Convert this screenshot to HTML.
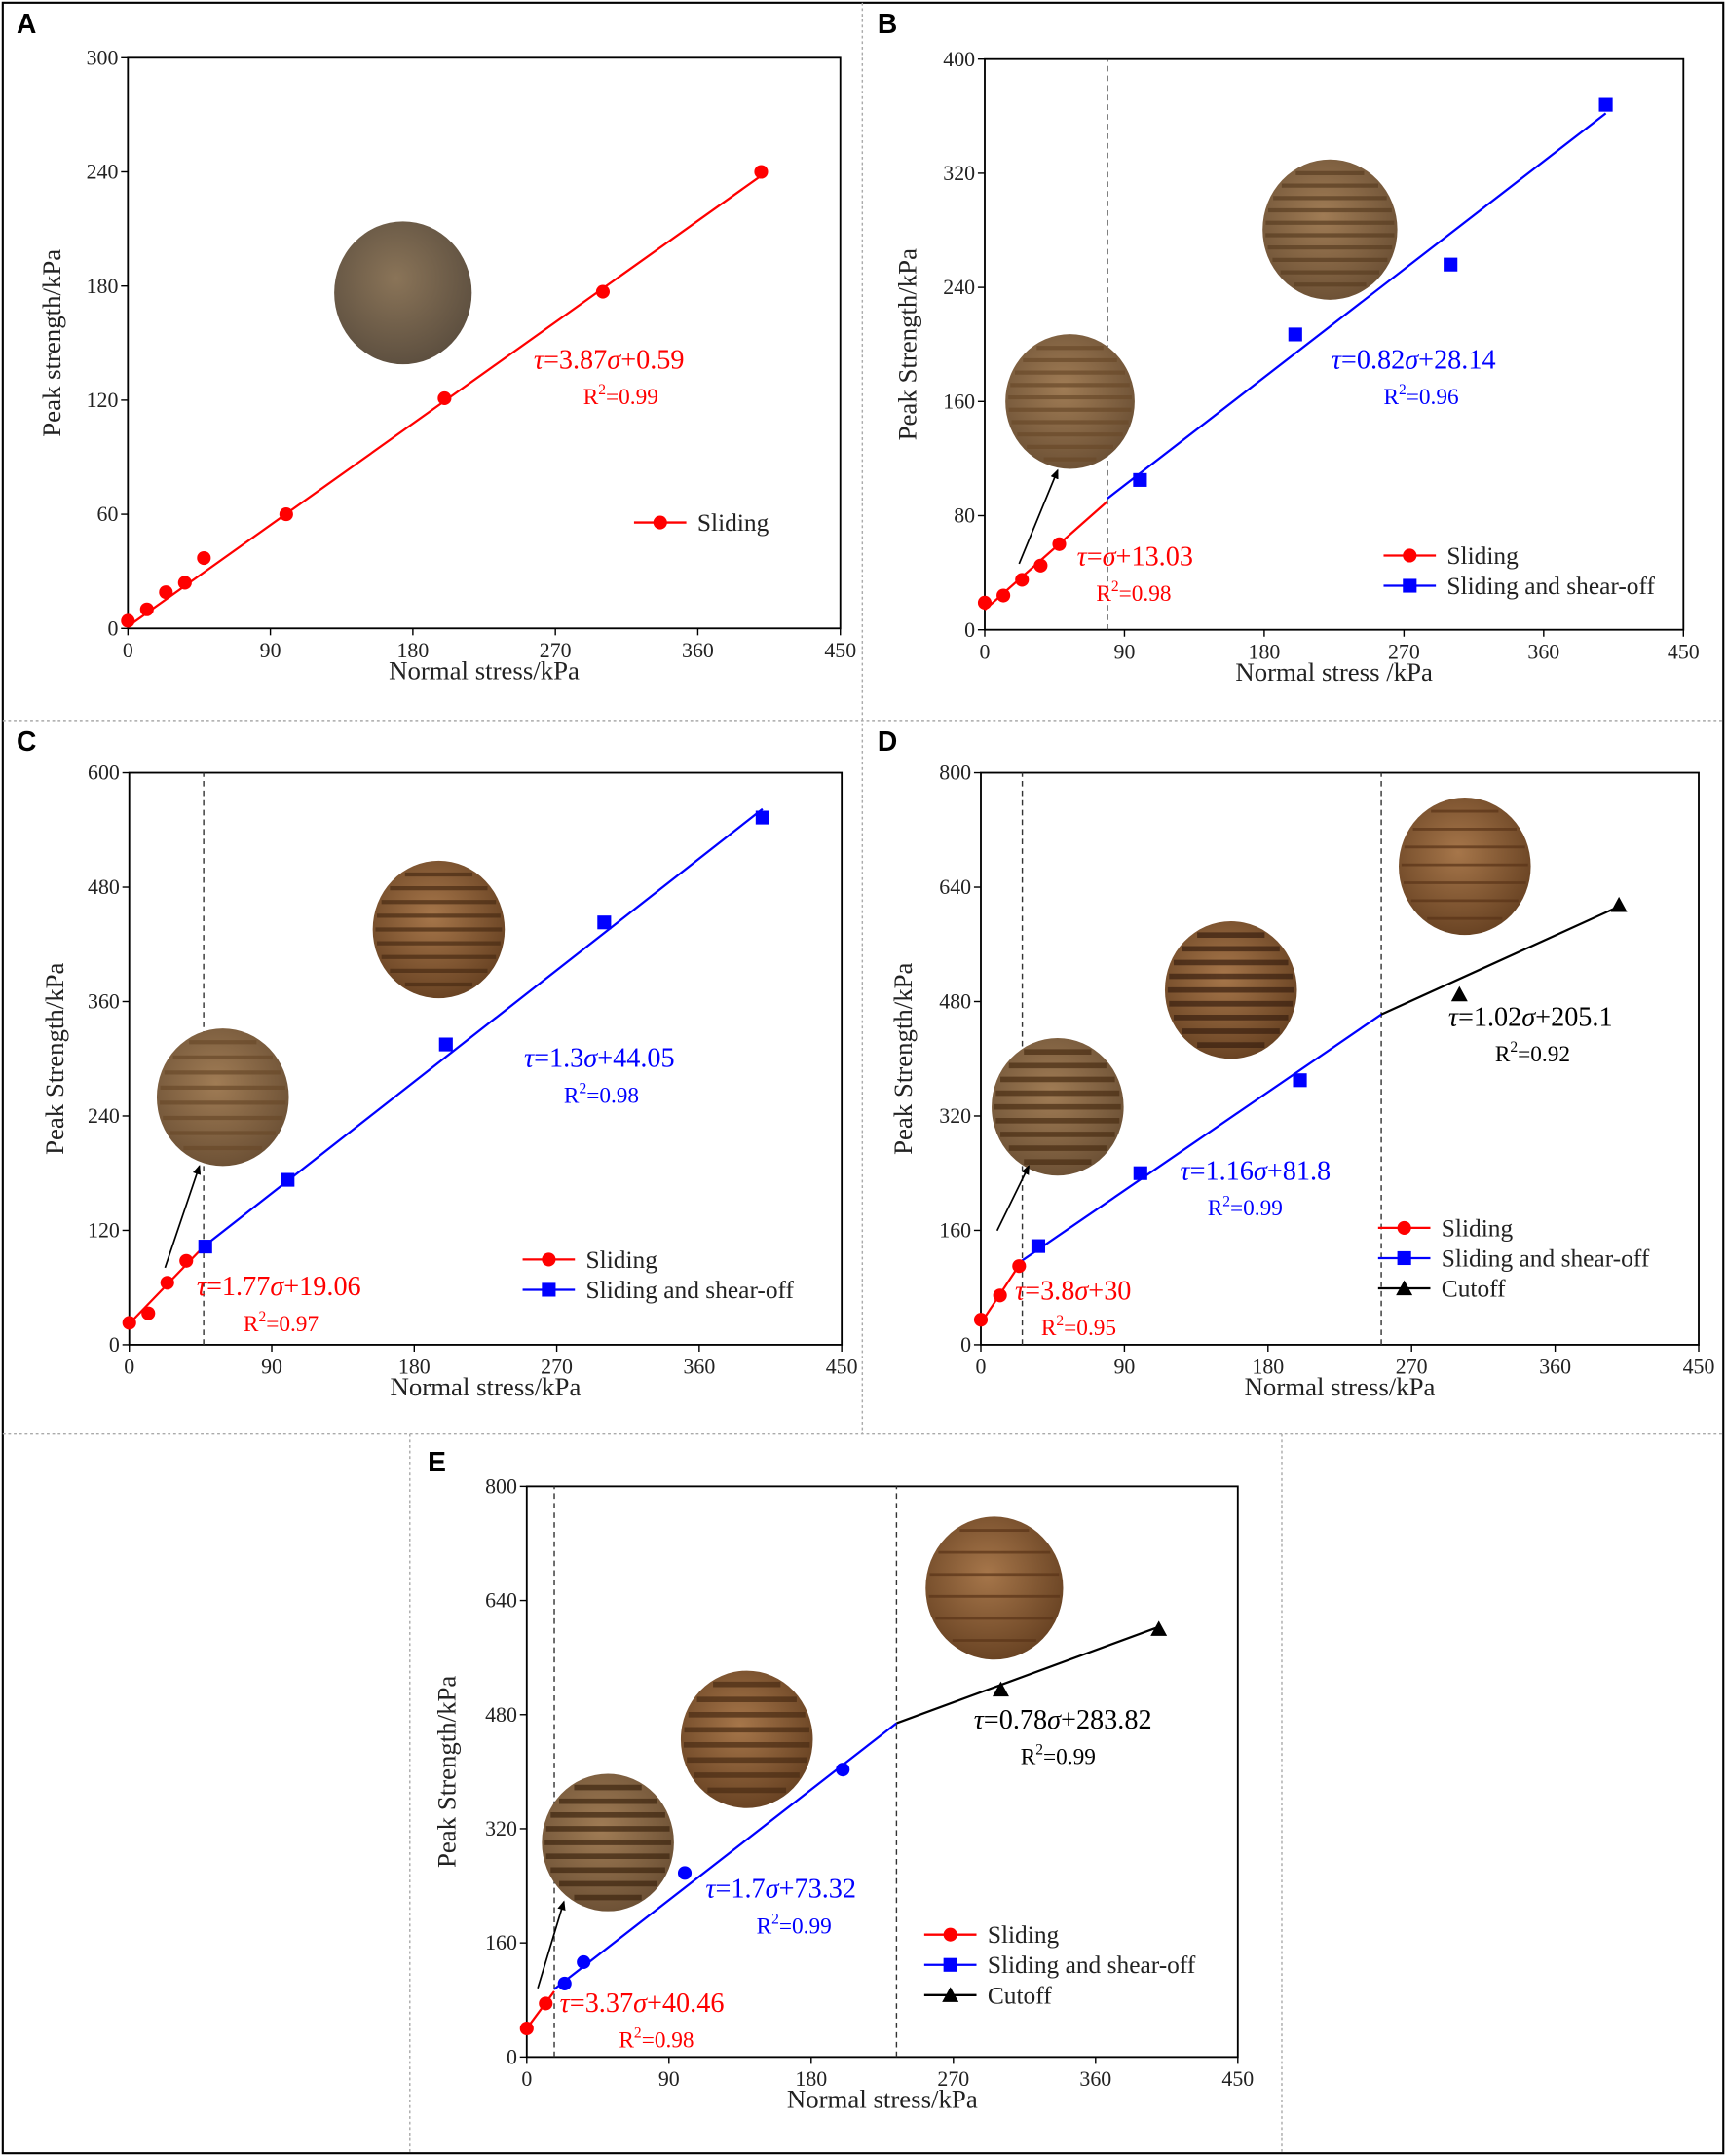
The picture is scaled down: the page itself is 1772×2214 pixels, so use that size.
<!DOCTYPE html>
<html><head><meta charset="utf-8"><style>
html,body{margin:0;padding:0;background:#fff}
svg{display:block}
text{font-family:"Liberation Serif",serif}
</style></head><body>
<svg id="s" xmlns="http://www.w3.org/2000/svg" width="1772" height="2214" viewBox="0 0 1772 2214">
<defs>
<radialGradient id="gA" cx="45%" cy="40%" r="60%"><stop offset="0" stop-color="#8a7458"/><stop offset="1" stop-color="#5e5040"/></radialGradient>
<radialGradient id="gB" cx="45%" cy="40%" r="60%"><stop offset="0" stop-color="#a07c55"/><stop offset="1" stop-color="#6e5236"/></radialGradient>
<radialGradient id="gC" cx="45%" cy="40%" r="60%"><stop offset="0" stop-color="#a6764a"/><stop offset="1" stop-color="#6a4424"/></radialGradient>
<marker id="ar" markerWidth="8" markerHeight="8" refX="6" refY="3" orient="auto" markerUnits="userSpaceOnUse"><path d="M0,0 L7,3 L0,6 Z" fill="#000"/></marker>
</defs>
<g id="g" transform="scale(1.412)"></g>
</svg>
<script>
var out=[];
function add(s){out.push(s);}
add('<rect x="2" y="2" width="1251" height="1564" fill="none" stroke="#000" stroke-width="1.5"/>');
var dv='stroke="#aaa" stroke-width="1" stroke-dasharray="2,2"';
add('<line x1="627" y1="2" x2="627" y2="1043" '+dv+'/>');
add('<line x1="2" y1="524" x2="1253" y2="524" '+dv+'/>');
add('<line x1="2" y1="1043" x2="1253" y2="1043" '+dv+'/>');
add('<line x1="298" y1="1043" x2="298" y2="1566" '+dv+'/>');
add('<line x1="932" y1="1043" x2="932" y2="1566" '+dv+'/>');
var COL={r:'#ff0000',b:'#0000ff',k:'#000'};
function panel(p){
 var X=function(v){return p.x0+(p.x1-p.x0)*v/450;};
 var Y=function(v){return p.y0-(p.y0-p.y1)*v/p.ym;};
 add('<rect x="'+p.x0+'" y="'+p.y1+'" width="'+(p.x1-p.x0)+'" height="'+(p.y0-p.y1)+'" fill="none" stroke="#000" stroke-width="1.3"/>');
 for(var i=0;i<=5;i++){var v=i*90,x=X(v);add('<line x1="'+x+'" y1="'+p.y0+'" x2="'+x+'" y2="'+(p.y0+5)+'" stroke="#000"/>');
  add('<text x="'+x+'" y="'+(p.y0+21)+'" font-size="15.5" text-anchor="middle" fill="#222">'+v+'</text>');}
 for(var i=0;i<=5;i++){var v=i*p.ym/5,y=Y(v);add('<line x1="'+(p.x0-5)+'" y1="'+y+'" x2="'+p.x0+'" y2="'+y+'" stroke="#000"/>');
  add('<text x="'+(p.x0-7)+'" y="'+(y+5)+'" font-size="15.5" text-anchor="end" fill="#222">'+v+'</text>');}
 add('<text x="'+(p.x0+p.x1)/2+'" y="'+(p.y0+37)+'" font-size="19" text-anchor="middle" fill="#222">'+p.xt+'</text>');
 var cy=(p.y0+p.y1)/2;
 add('<text transform="translate('+p.ytx+','+cy+') rotate(-90)" font-size="19" text-anchor="middle" fill="#222">'+p.yt+'</text>');
 add('<text x="'+p.lx+'" y="'+p.ly+'" font-size="20" font-weight="bold" style="font-family:\'Liberation Sans\',sans-serif">'+p.L+'</text>');
 (p.dash||[]).forEach(function(v){add('<line x1="'+X(v)+'" y1="'+p.y0+'" x2="'+X(v)+'" y2="'+p.y1+'" stroke="#333" stroke-dasharray="4,3"/>');});
 (p.imgs||[]).forEach(function(c){
  add('<ellipse cx="'+c[0]+'" cy="'+c[1]+'" rx="'+c[2]+'" ry="'+(c[2]+2)+'" fill="url(#'+c[3]+')"/>');
  if(c[4]){for(var k=-c[2]+8;k<c[2]-4;k+=c[4]){var hw=Math.sqrt(c[2]*c[2]-k*k)-2;
   add('<line x1="'+(c[0]-hw)+'" y1="'+(c[1]+k)+'" x2="'+(c[0]+hw)+'" y2="'+(c[1]+k)+'" stroke="'+(c[5]||'#5a3a1c')+'" stroke-width="'+(c[6]||3)+'" opacity="0.7"/>');}}
 });
 (p.arrows||[]).forEach(function(a){add('<line x1="'+a[0]+'" y1="'+a[1]+'" x2="'+a[2]+'" y2="'+a[3]+'" stroke="#000" stroke-width="1.2" marker-end="url(#ar)"/>');});
 p.lines.forEach(function(l){add('<line x1="'+X(l[1])+'" y1="'+Y(l[2])+'" x2="'+X(l[3])+'" y2="'+Y(l[4])+'" stroke="'+COL[l[0]]+'" stroke-width="1.6"/>');});
 function mk(t,c,x,y,s){s=s||5;
  if(t=='o')return '<circle cx="'+x+'" cy="'+y+'" r="'+s+'" fill="'+c+'"/>';
  if(t=='s')return '<rect x="'+(x-s)+'" y="'+(y-s)+'" width="'+2*s+'" height="'+2*s+'" fill="'+c+'"/>';
  return '<path d="M'+x+','+(y-s-1)+' L'+(x+s+1)+','+(y+s)+' L'+(x-s-1)+','+(y+s)+' Z" fill="'+c+'"/>';}
 p.pts.forEach(function(q){add(mk(q[1],COL[q[0]],X(q[2]),Y(q[3])));});
 p.eq.forEach(function(e){
  add('<text x="'+e[1]+'" y="'+e[2]+'" font-size="20" fill="'+COL[e[0]]+'"><tspan font-style="italic">τ</tspan>='+e[3]+'<tspan font-style="italic">σ</tspan>+'+e[4]+'</text>');
  add('<text x="'+e[5]+'" y="'+(e[2]+26)+'" font-size="16.5" fill="'+COL[e[0]]+'">R<tspan font-size="11" dy="-7">2</tspan><tspan dy="7">='+e[6]+'</tspan></text>');});
 p.leg.forEach(function(g,i){var y=p.legy+i*22;
  add('<line x1="'+p.legx+'" y1="'+y+'" x2="'+(p.legx+38)+'" y2="'+y+'" stroke="'+COL[g[0]]+'" stroke-width="1.6"/>');
  add(mk(g[1],COL[g[0]],p.legx+19,y,5));
  add('<text x="'+(p.legx+46)+'" y="'+(y+6)+'" font-size="18" fill="#222">'+g[2]+'</text>');});
}
panel({L:'A',lx:12,ly:24,x0:93,x1:611,y0:457,y1:42,ym:300,xt:'Normal stress/kPa',yt:'Peak strength/kPa',ytx:44,
 imgs:[[293,213,50,'gA']],lines:[['r',0,1,400,238]],
 pts:[['r','o',0,4],['r','o',12,10],['r','o',24,19],['r','o',36,24],['r','o',48,37],['r','o',100,60],['r','o',200,121],['r','o',300,177],['r','o',400,240]],
 eq:[['r',388,268,'3.87','0.59',424,'0.99']],legx:461,legy:380,leg:[['r','o','Sliding']]});
panel({L:'B',lx:638,ly:24,x0:716,x1:1224,y0:458,y1:43,ym:400,xt:'Normal stress /kPa',yt:'Peak Strength/kPa',ytx:666,dash:[79],
 imgs:[[778,292,47,'gB',9,'#6a4a2a',3],[967,167,49,'gB',9,'#5a3e22',3]],arrows:[[741,410,769,342]],
 lines:[['r',0,14,79,90],['b',79,92,400,362]],
 pts:[['r','o',0,19],['r','o',12,24],['r','o',24,35],['r','o',36,45],['r','o',48,60],['b','s',100,105],['b','s',200,207],['b','s',300,256],['b','s',400,368]],
 eq:[['r',783,411,'','13.03',797,'0.98'],['b',968,268,'0.82','28.14',1006,'0.96']],legx:1006,legy:404,leg:[['r','o','Sliding'],['b','s','Sliding and shear-off']]});
panel({L:'C',lx:12,ly:546,x0:94,x1:612,y0:978,y1:562,ym:600,xt:'Normal stress/kPa',yt:'Peak Strength/kPa',ytx:46,dash:[47],
 imgs:[[162,798,48,'gB',11,'#6a4a2a',3],[319,676,48,'gC',10,'#4a2c14',3]],arrows:[[120,922,145,848]],
 lines:[['r',0,22,47,103],['b',47,103,400,562]],
 pts:[['r','o',0,23],['r','o',12,33],['r','o',24,65],['r','o',36,88],['b','s',48,103],['b','s',100,173],['b','s',200,315],['b','s',300,443],['b','s',400,553]],
 eq:[['r',143,942,'1.77','19.06',177,'0.97'],['b',381,776,'1.3','44.05',410,'0.98']],legx:380,legy:916,leg:[['r','o','Sliding'],['b','s','Sliding and shear-off']]});
panel({L:'D',lx:638,ly:546,x0:1007/1.412,x1:1744/1.412,y0:978,y1:562,ym:800,xt:'Normal stress/kPa',yt:'Peak Strength/kPa',ytx:663,dash:[26,251],
 imgs:[[769,805,48,'gB',10,'#4a2e14',4],[895,720,48,'gC',10,'#3a2010',4],[1065,630,48,'gC',13,'#5a3418',2]],arrows:[[725,895,748,848]],
 lines:[['r',0,30,26,118],['b',26,118,251,462],['k',251,462,400,613]],
 pts:[['r','o',0,35],['r','o',12,69],['r','o',24,110],['b','s',36,138],['b','s',100,240],['b','s',200,370],['k','t',300,490],['k','t',400,615]],
 eq:[['r',738,945,'3.8','30',757,'0.95'],['b',858,858,'1.16','81.8',878,'0.99'],['k',1053,746,'1.02','205.1',1087,'0.92']],legx:1002,legy:893,leg:[['r','o','Sliding'],['b','s','Sliding and shear-off'],['k','t','Cutoff']]});
panel({L:'E',lx:311,ly:1070,x0:383,x1:900,y0:1496,y1:1081,ym:800,xt:'Normal stress/kPa',yt:'Peak Strength/kPa',ytx:331,dash:[17.4,234],
 imgs:[[442,1340,48,'gB',10,'#3e2610',4],[543,1265,48,'gC',11,'#4a2c14',4],[723,1155,50,'gC',16,'#5a3418',2]],arrows:[[391,1446,410,1383]],
 lines:[['r',0,40,17.4,92],['b',17.4,95,234,468],['k',234,468,400,603]],
 pts:[['r','o',0,40],['r','o',12,75],['b','o',24,103],['b','o',36,133],['b','o',100,258],['b','o',200,403],['k','t',300,515],['k','t',400,600]],
 eq:[['r',407,1463,'3.37','40.46',450,'0.98'],['b',513,1380,'1.7','73.32',550,'0.99'],['k',708,1257,'0.78','283.82',742,'0.99']],legx:672,legy:1407,leg:[['r','o','Sliding'],['b','s','Sliding and shear-off'],['k','t','Cutoff']]});
document.getElementById('g').innerHTML=out.join('');
</script>
</body></html>
